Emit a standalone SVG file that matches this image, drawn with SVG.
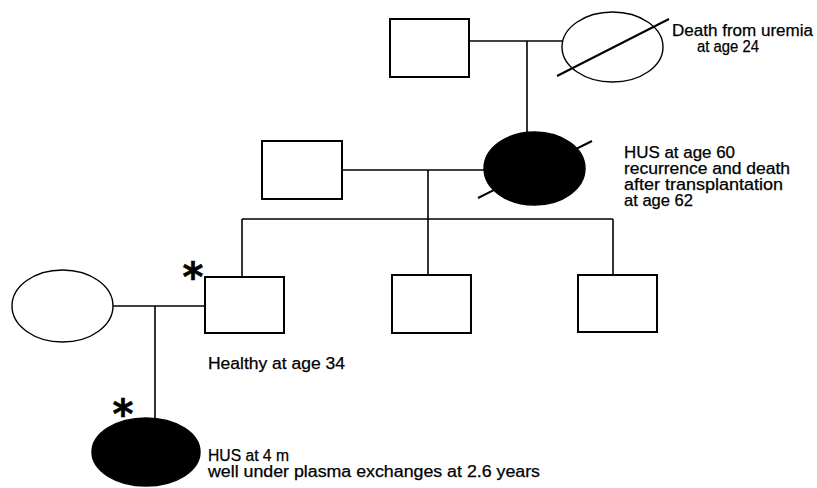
<svg xmlns="http://www.w3.org/2000/svg" width="817" height="488" viewBox="0 0 817 488">
<style>
.m{fill:#fff;stroke:#000;stroke-width:2}
.f{fill:#fff;stroke:#000;stroke-width:1.4}
.a{fill:#000;stroke:#000;stroke-width:1.4}
.c{fill:none;stroke:#000;stroke-width:1.6}
.s{fill:none;stroke:#000;stroke-width:2}
text{font-family:"Liberation Sans",Arial,sans-serif;font-size:16px;fill:#000;stroke:#000;stroke-width:0.25}
.ast{font-family:"DejaVu Sans",sans-serif;font-size:40px;font-weight:bold;stroke-width:0.5}
</style>
<rect width="817" height="488" fill="#fff"/>
<g id="connectors">
<line class="c" x1="469" y1="41" x2="563" y2="41"/>
<line class="c" x1="527" y1="41" x2="527" y2="133"/>
<line class="c" x1="342" y1="170" x2="485" y2="170"/>
<line class="c" x1="428" y1="170" x2="428" y2="275"/>
<line class="c" x1="242" y1="219" x2="613" y2="219"/>
<line class="c" x1="242" y1="219" x2="242" y2="277"/>
<line class="c" x1="613" y1="219" x2="613" y2="275"/>
<line class="c" x1="113" y1="306" x2="205" y2="306"/>
<line class="c" x1="155" y1="306" x2="155" y2="419"/>
</g>
<g id="gen1-father"><rect class="m" x="390" y="19" width="79" height="58"/></g>
<g id="gen1-mother">
<ellipse class="f" cx="612.5" cy="47" rx="50.5" ry="35"/>
<line class="s" x1="557" y1="76" x2="669" y2="19"/>
<text x="672" y="36" textLength="141" lengthAdjust="spacingAndGlyphs">Death from uremia</text>
<text x="697" y="52" textLength="62" lengthAdjust="spacingAndGlyphs">at age 24</text>
</g>
<g id="gen2-father"><rect class="m" x="262" y="141" width="80" height="58"/></g>
<g id="gen2-mother">
<line class="s" x1="478" y1="198" x2="592" y2="141"/>
<ellipse class="a" cx="534.5" cy="168.5" rx="50.5" ry="36.5"/>
<text x="624" y="158" textLength="111" lengthAdjust="spacingAndGlyphs">HUS at age 60</text>
<text x="624" y="174" textLength="166" lengthAdjust="spacingAndGlyphs">recurrence and death</text>
<text x="624" y="190" textLength="159" lengthAdjust="spacingAndGlyphs">after transplantation</text>
<text x="624" y="206" textLength="69" lengthAdjust="spacingAndGlyphs">at age 62</text>
</g>
<g id="gen3-wife"><ellipse class="f" cx="62.5" cy="306" rx="50.5" ry="36"/></g>
<g id="gen3-son1">
<rect class="m" x="205" y="277" width="79" height="56"/>
<text class="ast" x="193" y="291" text-anchor="middle">*</text>
<text x="208" y="369" textLength="137" lengthAdjust="spacingAndGlyphs">Healthy at age 34</text>
</g>
<g id="gen3-son2"><rect class="m" x="392" y="275" width="79" height="58"/></g>
<g id="gen3-son3"><rect class="m" x="578" y="275" width="79" height="57"/></g>
<g id="gen4-daughter">
<ellipse class="a" cx="146" cy="452" rx="54" ry="34"/>
<text class="ast" x="123" y="428" text-anchor="middle">*</text>
<text x="208" y="461" textLength="81" lengthAdjust="spacingAndGlyphs">HUS at 4 m</text>
<text x="208" y="477" textLength="332" lengthAdjust="spacingAndGlyphs">well under plasma exchanges at 2.6 years</text>
</g>
</svg>
